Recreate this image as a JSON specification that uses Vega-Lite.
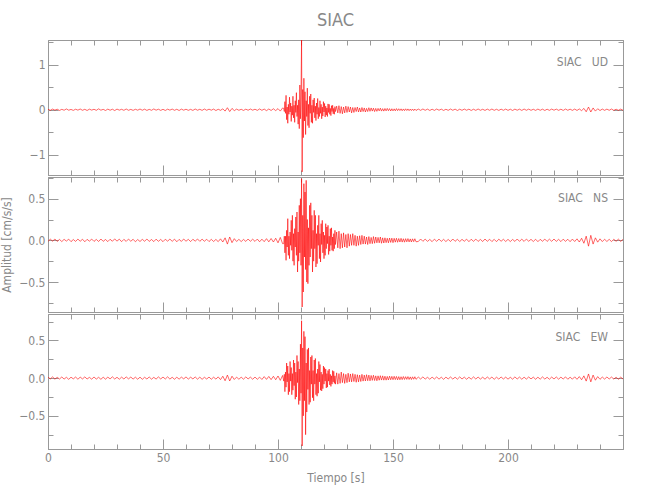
{
"$schema":"https://vega.github.io/schema/vega-lite/v6.json",
"background":"white",
"padding":{"left":0,"top":11,"right":5,"bottom":5},
"spacing":0,
"config":{"font":"DejaVu Sans Condensed, Liberation Sans","view":{"stroke":"#999","strokeWidth":1},
"axis":{"grid":false,"domainColor":"#999","tickColor":"#999","labelColor":"#888","titleColor":"#888","labelFontSize":12,"titleFontSize":12,"titleFontWeight":"normal","labelFont":"DejaVu Sans Condensed, Liberation Sans","titleFont":"DejaVu Sans Condensed, Liberation Sans","labelFlush":false},
"title":{"font":"DejaVu Sans Condensed, Liberation Sans"}},
"datasets":{"s":[
{"t":0,"u":0.01,"n":-0.012,"e":0.013},{"t":1,"u":-0.012,"n":0.014,"e":-0.011},{"t":2,"u":0.015,"n":-0.01,"e":0.016},{"t":3,"u":-0.008,"n":0.016,"e":-0.014},{"t":4,"u":0.012,"n":-0.013,"e":0.01},{"t":5,"u":-0.015,"n":0.011,"e":-0.012},{"t":6,"u":0.009,"n":-0.015,"e":0.015},{"t":7,"u":-0.011,"n":0.012,"e":-0.013},{"t":8,"u":0.018,"n":-0.009,"e":0.011},{"t":9,"u":-0.01,"n":0.014,"e":-0.016},
{"t":10,"u":0.007,"n":-0.016,"e":0.012},{"t":11,"u":-0.014,"n":0.01,"e":-0.01},{"t":12,"u":0.012,"n":-0.013,"e":0.014},{"t":13,"u":-0.009,"n":0.015,"e":-0.015},{"t":14,"u":0.016,"n":-0.011,"e":0.013},{"t":15,"u":-0.012,"n":0.013,"e":-0.011},{"t":16,"u":0.01,"n":-0.017,"e":0.016},{"t":17,"u":-0.017,"n":0.012,"e":-0.012},{"t":18,"u":0.013,"n":-0.01,"e":0.01},{"t":19,"u":-0.008,"n":0.015,"e":-0.014},
{"t":20,"u":0.011,"n":-0.013,"e":0.015},{"t":21,"u":-0.013,"n":0.011,"e":-0.013},{"t":22,"u":0.02,"n":-0.014,"e":0.011},{"t":23,"u":-0.01,"n":0.016,"e":-0.016},{"t":24,"u":0.009,"n":-0.012,"e":0.012},{"t":25,"u":-0.016,"n":0.01,"e":-0.014},{"t":26,"u":0.014,"n":-0.015,"e":0.013},{"t":27,"u":-0.011,"n":0.013,"e":-0.01},{"t":28,"u":0.012,"n":-0.011,"e":0.017},{"t":29,"u":-0.018,"n":0.017,"e":-0.012},
{"t":30,"u":0.015,"n":-0.01,"e":0.011},{"t":31,"u":-0.009,"n":0.014,"e":-0.015},{"t":32,"u":0.01,"n":-0.016,"e":0.013},{"t":33,"u":-0.013,"n":0.012,"e":-0.012},{"t":34,"u":0.017,"n":-0.013,"e":0.016},{"t":35,"u":-0.012,"n":0.015,"e":-0.01},{"t":36,"u":0.008,"n":-0.011,"e":0.014},{"t":37,"u":-0.014,"n":0.013,"e":-0.013},{"t":38,"u":0.011,"n":-0.017,"e":0.012},{"t":39,"u":-0.01,"n":0.01,"e":-0.015},
{"t":40,"u":0.016,"n":-0.014,"e":0.013},{"t":41,"u":-0.011,"n":0.012,"e":-0.016},{"t":42,"u":0.013,"n":-0.011,"e":0.011},{"t":43,"u":-0.015,"n":0.016,"e":-0.012},{"t":44,"u":0.009,"n":-0.013,"e":0.015},{"t":45,"u":-0.012,"n":0.01,"e":-0.014},{"t":46,"u":0.018,"n":-0.015,"e":0.01},{"t":47,"u":-0.01,"n":0.014,"e":-0.013},{"t":48,"u":0.012,"n":-0.012,"e":0.016},{"t":49,"u":-0.014,"n":0.011,"e":-0.011},
{"t":50,"u":0.01,"n":-0.016,"e":0.014},{"t":51,"u":-0.016,"n":0.013,"e":-0.012},{"t":52,"u":0.013,"n":-0.01,"e":0.017},{"t":53,"u":-0.009,"n":0.015,"e":-0.013},{"t":54,"u":0.015,"n":-0.012,"e":0.011},{"t":55,"u":-0.012,"n":0.014,"e":-0.015},{"t":56,"u":0.011,"n":-0.017,"e":0.012},{"t":57,"u":-0.017,"n":0.011,"e":-0.014},{"t":58,"u":0.014,"n":-0.013,"e":0.013},{"t":59,"u":-0.01,"n":0.016,"e":-0.01},
{"t":60,"u":0.012,"n":-0.011,"e":0.016},{"t":61,"u":-0.013,"n":0.012,"e":-0.013},{"t":62,"u":0.009,"n":-0.015,"e":0.012},{"t":63,"u":-0.015,"n":0.013,"e":-0.011},{"t":64,"u":0.017,"n":-0.01,"e":0.015},{"t":65,"u":-0.011,"n":0.016,"e":-0.014},{"t":66,"u":0.01,"n":-0.012,"e":0.013},{"t":67,"u":-0.014,"n":0.014,"e":-0.016},{"t":68,"u":0.016,"n":-0.011,"e":0.011},{"t":69,"u":-0.012,"n":0.013,"e":-0.012},
{"t":70,"u":0.013,"n":-0.015,"e":0.014},{"t":71,"u":-0.01,"n":0.012,"e":-0.015},{"t":72,"u":0.015,"n":-0.014,"e":0.012},{"t":73,"u":-0.018,"n":0.011,"e":-0.013},{"t":74,"u":0.011,"n":-0.016,"e":0.016},{"t":75,"u":-0.013,"n":0.018,"e":-0.02},{"t":76,"u":0.02,"n":-0.02,"e":0.025},{"t":77,"u":-0.03,"n":0.03,"e":-0.035},{"t":78,"u":0.045,"n":-0.045,"e":0.04},{"t":79,"u":-0.04,"n":0.04,"e":-0.038},
{"t":80,"u":0.03,"n":-0.028,"e":0.025},{"t":81,"u":-0.02,"n":0.02,"e":-0.018},{"t":82,"u":0.014,"n":-0.014,"e":0.013},{"t":83,"u":-0.012,"n":0.012,"e":-0.015},{"t":84,"u":0.01,"n":-0.015,"e":0.012},{"t":85,"u":-0.015,"n":0.011,"e":-0.014},{"t":86,"u":0.013,"n":-0.013,"e":0.016},{"t":87,"u":-0.011,"n":0.016,"e":-0.011},{"t":88,"u":0.016,"n":-0.012,"e":0.013},{"t":89,"u":-0.01,"n":0.014,"e":-0.015},
{"t":90,"u":0.012,"n":-0.013,"e":0.014},{"t":91,"u":-0.014,"n":0.015,"e":-0.016},{"t":92,"u":0.018,"n":-0.017,"e":0.013},{"t":93,"u":-0.013,"n":0.014,"e":-0.018},{"t":94,"u":0.015,"n":-0.016,"e":0.02},{"t":95,"u":-0.02,"n":0.02,"e":-0.017},{"t":96,"u":0.017,"n":-0.018,"e":0.022},{"t":97,"u":-0.016,"n":0.022,"e":-0.02},{"t":98,"u":0.022,"n":-0.02,"e":0.024},{"t":99,"u":-0.019,"n":0.025,"e":-0.022},
{"t":100,"u":0.025,"n":-0.03,"e":0.028},{"t":101,"u":-0.03,"n":0.035,"e":-0.03},{"t":102,"u":0.04,"n":-0.04,"e":0.035},
{"t":102.5,"u":0.03,"n":-0.04,"e":-0.04},{"t":102.75,"u":-0.04,"n":0.05,"e":0.05},
{"t":103,"u":0.18,"n":-0.15,"e":-0.18},{"t":103.25,"u":-0.08,"n":0.05,"e":0.08},{"t":103.5,"u":0.32,"n":-0.24,"e":-0.12},{"t":103.75,"u":-0.22,"n":0.12,"e":0.2},
{"t":104,"u":0.06,"n":-0.08,"e":-0.05},{"t":104.25,"u":-0.3,"n":0.26,"e":0.16},{"t":104.5,"u":0.12,"n":-0.18,"e":-0.22},{"t":104.75,"u":-0.1,"n":0.05,"e":0.06},
{"t":105,"u":0.28,"n":-0.22,"e":-0.18},{"t":105.25,"u":-0.05,"n":0.1,"e":0.22},{"t":105.5,"u":0.15,"n":-0.06,"e":-0.04},{"t":105.75,"u":-0.26,"n":0.24,"e":0.14},
{"t":106,"u":0.08,"n":-0.12,"e":-0.22},{"t":106.25,"u":-0.12,"n":0.3,"e":0.06},{"t":106.5,"u":0.3,"n":-0.25,"e":-0.16},{"t":106.75,"u":-0.18,"n":0.08,"e":0.24},
{"t":107,"u":0.1,"n":-0.3,"e":-0.1},{"t":107.25,"u":-0.28,"n":0.14,"e":0.2},{"t":107.5,"u":0.2,"n":-0.08,"e":-0.28},{"t":107.75,"u":-0.06,"n":0.28,"e":0.08},
{"t":108,"u":0.38,"n":-0.18,"e":-0.25},{"t":108.25,"u":-0.15,"n":0.34,"e":0.3},{"t":108.5,"u":0.1,"n":-0.38,"e":-0.06},{"t":108.75,"u":-0.32,"n":0.1,"e":0.22},
{"t":109,"u":0.22,"n":-0.25,"e":-0.35},{"t":109.25,"u":-0.42,"n":0.42,"e":0.12},{"t":109.5,"u":0.55,"n":-0.15,"e":-0.3},{"t":109.75,"u":-0.2,"n":0.5,"e":0.45},
{"t":110,"u":0.35,"n":-0.3,"e":-0.2},{"t":110.25,"u":1.55,"n":0.74,"e":0.76},{"t":110.5,"u":-1.38,"n":-0.8,"e":-0.9},{"t":110.75,"u":0.45,"n":0.3,"e":0.4},
{"t":111,"u":-0.62,"n":-0.62,"e":-0.5},{"t":111.25,"u":0.7,"n":0.68,"e":0.62},{"t":111.5,"u":-0.25,"n":-0.2,"e":-0.3},{"t":111.75,"u":0.4,"n":0.58,"e":0.55},
{"t":112,"u":-0.55,"n":-0.35,"e":-0.75},{"t":112.25,"u":0.2,"n":0.72,"e":0.2},{"t":112.5,"u":-0.15,"n":-0.5,"e":-0.45},{"t":112.75,"u":0.48,"n":0.25,"e":0.38},
{"t":113,"u":-0.35,"n":-0.52,"e":-0.15},{"t":113.25,"u":0.12,"n":0.15,"e":0.4},{"t":113.5,"u":-0.4,"n":-0.3,"e":-0.35},{"t":113.75,"u":0.3,"n":0.42,"e":0.1},
{"t":114,"u":-0.08,"n":-0.2,"e":-0.32},{"t":114.25,"u":0.35,"n":0.45,"e":0.28},{"t":114.5,"u":-0.28,"n":-0.1,"e":-0.08},{"t":114.75,"u":0.1,"n":0.3,"e":0.3},
{"t":115,"u":-0.3,"n":-0.38,"e":-0.26},{"t":115.25,"u":0.22,"n":0.12,"e":0.1},{"t":115.5,"u":-0.06,"n":-0.25,"e":-0.3},{"t":115.75,"u":0.26,"n":0.36,"e":0.24},
{"t":116,"u":-0.18,"n":-0.1,"e":-0.08},{"t":116.25,"u":0.08,"n":0.3,"e":0.26},{"t":116.5,"u":-0.24,"n":-0.32,"e":-0.22},{"t":116.75,"u":0.15,"n":0.08,"e":0.06},
{"t":117,"u":-0.1,"n":-0.28,"e":-0.24},{"t":117.25,"u":0.25,"n":0.18,"e":0.12},{"t":117.5,"u":-0.2,"n":-0.06,"e":-0.2},{"t":117.75,"u":0.05,"n":0.3,"e":0.22},
{"t":118,"u":-0.15,"n":-0.22,"e":-0.05},{"t":118.25,"u":0.2,"n":0.08,"e":0.18},{"t":118.5,"u":-0.08,"n":-0.26,"e":-0.16},{"t":118.75,"u":0.12,"n":0.2,"e":0.08},
{"t":119,"u":-0.2,"n":-0.05,"e":-0.17},{"t":119.25,"u":0.06,"n":0.24,"e":0.05},{"t":119.5,"u":-0.14,"n":-0.15,"e":-0.14},{"t":119.75,"u":0.18,"n":0.1,"e":0.16},
{"t":120,"u":-0.05,"n":-0.22,"e":-0.08},{"t":120.25,"u":0.14,"n":0.06,"e":0.14},{"t":120.5,"u":-0.16,"n":-0.18,"e":-0.04},{"t":120.75,"u":0.08,"n":0.2,"e":0.12},
{"t":121,"u":-0.12,"n":-0.1,"e":-0.13},{"t":121.25,"u":0.04,"n":0.16,"e":0.06},{"t":121.5,"u":-0.15,"n":-0.04,"e":-0.12},{"t":121.75,"u":0.13,"n":0.18,"e":0.1},
{"t":122,"u":-0.06,"n":-0.17,"e":-0.04},{"t":122.25,"u":0.12,"n":0.05,"e":0.12},{"t":122.5,"u":-0.1,"n":-0.13,"e":-0.09},{"t":122.75,"u":0.03,"n":0.14,"e":0.05},
{"t":123,"u":-0.13,"n":-0.06,"e":-0.11},{"t":123.25,"u":0.09,"n":0.15,"e":0.03},{"t":123.5,"u":-0.04,"n":-0.12,"e":-0.08},{"t":123.75,"u":0.1,"n":0.04,"e":0.1},
{"t":124,"u":-0.09,"n":-0.13,"e":-0.05},{"t":124.25,"u":0.03,"n":0.08,"e":0.09},{"t":124.5,"u":-0.1,"n":-0.1,"e":-0.07},{"t":124.75,"u":0.07,"n":0.12,"e":0.03},
{"t":125,"u":-0.04,"n":-0.05,"e":-0.08},
{"t":125.5,"u":0.08,"n":0.1,"e":0.07},{"t":126,"u":-0.07,"n":-0.09,"e":-0.08},{"t":126.5,"u":0.09,"n":0.11,"e":0.06},{"t":127,"u":-0.08,"n":-0.1,"e":-0.07},{"t":127.5,"u":0.07,"n":0.08,"e":0.08},{"t":128,"u":-0.09,"n":-0.09,"e":-0.06},
{"t":128.5,"u":0.06,"n":0.09,"e":0.06},{"t":129,"u":-0.07,"n":-0.08,"e":-0.07},{"t":129.5,"u":0.08,"n":0.07,"e":0.05},{"t":130,"u":-0.06,"n":-0.09,"e":-0.06},{"t":130.5,"u":0.07,"n":0.08,"e":0.065},{"t":131,"u":-0.05,"n":-0.07,"e":-0.05},
{"t":131.5,"u":0.06,"n":0.07,"e":0.055},{"t":132,"u":-0.07,"n":-0.06,"e":-0.05},{"t":132.5,"u":0.05,"n":0.08,"e":0.06},{"t":133,"u":-0.06,"n":-0.06,"e":-0.045},{"t":133.5,"u":0.05,"n":0.06,"e":0.05},{"t":134,"u":-0.04,"n":-0.07,"e":-0.055},
{"t":134.5,"u":0.06,"n":0.05,"e":0.045},{"t":135,"u":-0.05,"n":-0.06,"e":-0.05},{"t":135.5,"u":0.04,"n":0.055,"e":0.04},{"t":136,"u":-0.05,"n":-0.05,"e":-0.045},{"t":136.5,"u":0.05,"n":0.06,"e":0.05},{"t":137,"u":-0.04,"n":-0.045,"e":-0.04},
{"t":137.5,"u":0.04,"n":0.05,"e":0.04},{"t":138,"u":-0.05,"n":-0.045,"e":-0.038},{"t":138.5,"u":0.03,"n":0.04,"e":0.045},{"t":139,"u":-0.04,"n":-0.05,"e":-0.035},{"t":139.5,"u":0.045,"n":0.045,"e":0.04},{"t":140,"u":-0.035,"n":-0.04,"e":-0.036},
{"t":140.5,"u":0.04,"n":0.035,"e":0.035},{"t":141,"u":-0.03,"n":-0.04,"e":-0.03},{"t":141.5,"u":0.035,"n":0.045,"e":0.038},{"t":142,"u":-0.04,"n":-0.035,"e":-0.032},{"t":142.5,"u":0.03,"n":0.04,"e":0.03},{"t":143,"u":-0.035,"n":-0.03,"e":-0.035},
{"t":143.5,"u":0.03,"n":0.035,"e":0.03},{"t":144,"u":-0.025,"n":-0.03,"e":-0.028},{"t":144.5,"u":0.035,"n":0.04,"e":0.032},{"t":145,"u":-0.03,"n":-0.035,"e":-0.026},{"t":145.5,"u":0.025,"n":0.03,"e":0.03},{"t":146,"u":-0.03,"n":-0.032,"e":-0.027},
{"t":146.5,"u":0.028,"n":0.03,"e":0.025},{"t":147,"u":-0.025,"n":-0.028,"e":-0.027},{"t":147.5,"u":0.03,"n":0.025,"e":0.022},{"t":148,"u":-0.022,"n":-0.03,"e":-0.025},{"t":148.5,"u":0.025,"n":0.028,"e":0.026},{"t":149,"u":-0.028,"n":-0.025,"e":-0.022},
{"t":149.5,"u":0.022,"n":0.026,"e":0.023},{"t":150,"u":-0.025,"n":-0.028,"e":-0.021},{"t":150.5,"u":0.02,"n":0.024,"e":0.024},{"t":151,"u":-0.024,"n":-0.022,"e":-0.02},{"t":151.5,"u":0.026,"n":0.025,"e":0.022},{"t":152,"u":-0.02,"n":-0.023,"e":-0.023},
{"t":152.5,"u":0.022,"n":0.022,"e":0.02},{"t":153,"u":-0.018,"n":-0.02,"e":-0.022},{"t":153.5,"u":0.02,"n":0.024,"e":0.018},{"t":154,"u":-0.022,"n":-0.021,"e":-0.02},{"t":154.5,"u":0.018,"n":0.019,"e":0.021},{"t":155,"u":-0.02,"n":-0.022,"e":-0.018},
{"t":155.5,"u":0.021,"n":0.02,"e":0.019},{"t":156,"u":-0.017,"n":-0.018,"e":-0.017},{"t":156.5,"u":0.019,"n":0.021,"e":0.02},{"t":157,"u":-0.02,"n":-0.019,"e":-0.018},{"t":157.5,"u":0.016,"n":0.017,"e":0.016},{"t":158,"u":-0.018,"n":-0.02,"e":-0.019},
{"t":158.5,"u":0.017,"n":0.018,"e":0.017},{"t":159,"u":-0.019,"n":-0.016,"e":-0.015},{"t":159.5,"u":0.015,"n":0.019,"e":0.018},{"t":160,"u":-0.016,"n":-0.017,"e":-0.016},
{"t":161,"u":0.015,"n":-0.014,"e":0.014},{"t":162,"u":-0.013,"n":0.016,"e":-0.012},{"t":163,"u":0.017,"n":-0.012,"e":0.016},{"t":164,"u":-0.012,"n":0.015,"e":-0.013},{"t":165,"u":0.014,"n":-0.013,"e":0.011},{"t":166,"u":-0.016,"n":0.011,"e":-0.015},{"t":167,"u":0.012,"n":-0.016,"e":0.013},{"t":168,"u":-0.014,"n":0.014,"e":-0.012},{"t":169,"u":0.016,"n":-0.012,"e":0.015},{"t":170,"u":-0.011,"n":0.015,"e":-0.014},
{"t":171,"u":0.013,"n":-0.013,"e":0.012},{"t":172,"u":-0.015,"n":0.012,"e":-0.016},{"t":173,"u":0.011,"n":-0.015,"e":0.013},{"t":174,"u":-0.013,"n":0.011,"e":-0.011},{"t":175,"u":0.016,"n":-0.014,"e":0.015},{"t":176,"u":-0.012,"n":0.016,"e":-0.013},{"t":177,"u":0.014,"n":-0.012,"e":0.012},{"t":178,"u":-0.017,"n":0.013,"e":-0.014},{"t":179,"u":0.012,"n":-0.015,"e":0.016},{"t":180,"u":-0.013,"n":0.012,"e":-0.012},
{"t":181,"u":0.015,"n":-0.011,"e":0.013},{"t":182,"u":-0.011,"n":0.014,"e":-0.015},{"t":183,"u":0.013,"n":-0.016,"e":0.011},{"t":184,"u":-0.016,"n":0.013,"e":-0.014},{"t":185,"u":0.012,"n":-0.012,"e":0.016},{"t":186,"u":-0.014,"n":0.015,"e":-0.012},{"t":187,"u":0.017,"n":-0.013,"e":0.014},{"t":188,"u":-0.012,"n":0.011,"e":-0.013},{"t":189,"u":0.011,"n":-0.014,"e":0.012},{"t":190,"u":-0.015,"n":0.016,"e":-0.015},
{"t":191,"u":0.014,"n":-0.012,"e":0.015},{"t":192,"u":-0.012,"n":0.013,"e":-0.011},{"t":193,"u":0.016,"n":-0.015,"e":0.014},{"t":194,"u":-0.013,"n":0.012,"e":-0.016},{"t":195,"u":0.011,"n":-0.016,"e":0.012},{"t":196,"u":-0.015,"n":0.014,"e":-0.013},{"t":197,"u":0.013,"n":-0.011,"e":0.015},{"t":198,"u":-0.012,"n":0.013,"e":-0.012},{"t":199,"u":0.015,"n":-0.014,"e":0.013},{"t":200,"u":-0.014,"n":0.012,"e":-0.014},
{"t":201,"u":0.012,"n":-0.015,"e":0.011},{"t":202,"u":-0.016,"n":0.011,"e":-0.014},{"t":203,"u":0.014,"n":-0.013,"e":0.016},{"t":204,"u":-0.011,"n":0.016,"e":-0.012},{"t":205,"u":0.013,"n":-0.012,"e":0.014},{"t":206,"u":-0.015,"n":0.014,"e":-0.015},{"t":207,"u":0.016,"n":-0.013,"e":0.012},{"t":208,"u":-0.012,"n":0.015,"e":-0.013},{"t":209,"u":0.014,"n":-0.011,"e":0.015},{"t":210,"u":-0.013,"n":0.012,"e":-0.011},
{"t":211,"u":0.011,"n":-0.014,"e":0.013},{"t":212,"u":-0.014,"n":0.013,"e":-0.015},{"t":213,"u":0.015,"n":-0.016,"e":0.012},{"t":214,"u":-0.012,"n":0.012,"e":-0.014},{"t":215,"u":0.013,"n":-0.011,"e":0.016},{"t":216,"u":-0.016,"n":0.015,"e":-0.013},{"t":217,"u":0.012,"n":-0.013,"e":0.011},{"t":218,"u":-0.013,"n":0.014,"e":-0.015},{"t":219,"u":0.015,"n":-0.012,"e":0.014},{"t":220,"u":-0.011,"n":0.016,"e":-0.012},
{"t":221,"u":0.014,"n":-0.013,"e":0.015},{"t":222,"u":-0.013,"n":0.012,"e":-0.014},{"t":223,"u":0.012,"n":-0.015,"e":0.013},{"t":224,"u":-0.015,"n":0.014,"e":-0.012},{"t":225,"u":0.016,"n":-0.012,"e":0.016},{"t":226,"u":-0.012,"n":0.013,"e":-0.015},{"t":227,"u":0.013,"n":-0.016,"e":0.012},{"t":228,"u":-0.014,"n":0.015,"e":-0.014},{"t":229,"u":0.015,"n":-0.014,"e":0.017},{"t":230,"u":-0.016,"n":0.018,"e":-0.016},
{"t":231,"u":0.018,"n":-0.02,"e":0.02},{"t":232,"u":-0.02,"n":0.025,"e":-0.022},{"t":233,"u":0.03,"n":-0.035,"e":0.03},{"t":234,"u":-0.045,"n":0.05,"e":-0.04},{"t":235,"u":0.06,"n":-0.07,"e":0.055},{"t":236,"u":-0.05,"n":0.06,"e":-0.05},{"t":237,"u":0.04,"n":-0.045,"e":0.04},{"t":238,"u":-0.03,"n":0.03,"e":-0.028},{"t":239,"u":0.022,"n":-0.022,"e":0.02},{"t":240,"u":-0.018,"n":0.018,"e":-0.016},
{"t":241,"u":0.015,"n":-0.015,"e":0.014},{"t":242,"u":-0.013,"n":0.013,"e":-0.013},{"t":243,"u":0.014,"n":-0.014,"e":0.015},{"t":244,"u":-0.012,"n":0.012,"e":-0.012},{"t":245,"u":0.016,"n":-0.015,"e":0.014},{"t":246,"u":-0.014,"n":0.013,"e":-0.013},{"t":247,"u":0.012,"n":-0.012,"e":0.012},{"t":248,"u":-0.013,"n":0.014,"e":-0.015},{"t":249,"u":0.014,"n":-0.013,"e":0.013},{"t":250,"u":-0.012,"n":0.012,"e":-0.012}
]},
"vconcat":[
{"width":575,"height":135,
"title":{"text":"SIAC","fontSize":18,"fontWeight":"normal","color":"#888","offset":10},
"layer":[
{"data":{"name":"s"},"mark":{"type":"line","color":"#ff0000","strokeWidth":0.6,"clip":true},
"encoding":{"x":{"field":"t","type":"quantitative","scale":{"domain":[0,250],"nice":false,"zero":false},"axis":{"labels":false,"ticks":false,"title":null}},
"y":{"field":"u","type":"quantitative","scale":{"domain":[-1.45,1.55],"nice":false,"zero":false},"axis":{"values":[-1,0,1],"ticks":false,"labelPadding":3,"format":"d","title":null}}}},
{"data":{"values":[{"t":125,"v":0}]},"mark":{"type":"point","opacity":0},
"encoding":{"x":{"field":"t","type":"quantitative","scale":{"domain":[0,250],"nice":false,"zero":false},"axis":{"orient":"bottom","values":[0,50,100,150,200],"tickSize":-10,"labels":false,"domain":false,"title":null}},
"y":{"field":"v","type":"quantitative","scale":{"domain":[-1.45,1.55],"nice":false,"zero":false},"axis":{"orient":"left","values":[-1,0,1],"tickSize":-10,"labels":false,"domain":false,"title":null}}}},
{"data":{"values":[{"t":125,"v":0}]},"mark":{"type":"point","opacity":0},
"encoding":{"x":{"field":"t","type":"quantitative","scale":{"domain":[0,250],"nice":false,"zero":false},"axis":{"orient":"bottom","values":[10,20,30,40,60,70,80,90,110,120,130,140,160,170,180,190,210,220,230,240],"tickSize":-5,"labels":false,"domain":false,"title":null}},
"y":{"field":"v","type":"quantitative","scale":{"domain":[-1.45,1.55],"nice":false,"zero":false},"axis":{"orient":"left","values":[-0.5,0.5,1.5],"tickSize":-5,"labels":false,"domain":false,"title":null}}}},
{"data":{"values":[{"t":125,"v":0}]},"mark":{"type":"point","opacity":0},
"encoding":{"x":{"field":"t","type":"quantitative","scale":{"domain":[0,250],"nice":false,"zero":false},"axis":{"orient":"top","values":[10,20,30,40,50,60,70,80,90,100,110,120,130,140,150,160,170,180,190,200,210,220,230,240],"tickSize":-5,"labels":false,"title":null}},
"y":{"field":"v","type":"quantitative","scale":{"domain":[-1.45,1.55],"nice":false,"zero":false},"axis":{"orient":"right","values":[-1,0,1],"tickSize":-10,"labels":false,"title":null}}}},
{"data":{"values":[{"t":125,"v":0}]},"mark":{"type":"point","opacity":0},
"encoding":{"x":{"field":"t","type":"quantitative","scale":{"domain":[0,250],"nice":false,"zero":false},"axis":null},
"y":{"field":"v","type":"quantitative","scale":{"domain":[-1.45,1.55],"nice":false,"zero":false},"axis":{"orient":"right","values":[-0.5,0.5,1.5],"tickSize":-5,"labels":false,"domain":false,"title":null}}}},
{"data":{"values":[{"lab":"SIAC\u00a0\u00a0\u00a0UD"}]},"mark":{"type":"text","align":"right","baseline":"middle","color":"#888","fontSize":12},
"encoding":{"x":{"datum":243.5,"type":"quantitative","axis":null},"y":{"datum":1.07,"type":"quantitative","axis":null},"text":{"field":"lab"}}}
],
"resolve":{"axis":{"x":"independent","y":"independent"}}},
{"width":575,"height":135,
"layer":[
{"data":{"name":"s"},"mark":{"type":"line","color":"#ff0000","strokeWidth":0.6,"clip":true},
"encoding":{"x":{"field":"t","type":"quantitative","scale":{"domain":[0,250],"nice":false,"zero":false},"axis":{"labels":false,"ticks":false,"title":null}},
"y":{"field":"n","type":"quantitative","scale":{"domain":[-0.86,0.76],"nice":false,"zero":false},"axis":{"values":[-0.5,0,0.5],"ticks":false,"labelPadding":3,"format":".1f","title":"Amplitud  [cm/s/s]","titlePadding":5}}}},
{"data":{"values":[{"t":125,"v":0}]},"mark":{"type":"point","opacity":0},
"encoding":{"x":{"field":"t","type":"quantitative","scale":{"domain":[0,250],"nice":false,"zero":false},"axis":{"orient":"bottom","values":[0,50,100,150,200],"tickSize":-10,"labels":false,"domain":false,"title":null}},
"y":{"field":"v","type":"quantitative","scale":{"domain":[-0.86,0.76],"nice":false,"zero":false},"axis":{"orient":"left","values":[-0.5,0,0.5],"tickSize":-10,"labels":false,"domain":false,"title":null}}}},
{"data":{"values":[{"t":125,"v":0}]},"mark":{"type":"point","opacity":0},
"encoding":{"x":{"field":"t","type":"quantitative","scale":{"domain":[0,250],"nice":false,"zero":false},"axis":{"orient":"bottom","values":[10,20,30,40,60,70,80,90,110,120,130,140,160,170,180,190,210,220,230,240],"tickSize":-5,"labels":false,"domain":false,"title":null}},
"y":{"field":"v","type":"quantitative","scale":{"domain":[-0.86,0.76],"nice":false,"zero":false},"axis":{"orient":"left","values":[-0.75,-0.25,0.25,0.75],"tickSize":-5,"labels":false,"domain":false,"title":null}}}},
{"data":{"values":[{"t":125,"v":0}]},"mark":{"type":"point","opacity":0},
"encoding":{"x":{"field":"t","type":"quantitative","scale":{"domain":[0,250],"nice":false,"zero":false},"axis":{"orient":"top","values":[10,20,30,40,50,60,70,80,90,100,110,120,130,140,150,160,170,180,190,200,210,220,230,240],"tickSize":-5,"labels":false,"title":null}},
"y":{"field":"v","type":"quantitative","scale":{"domain":[-0.86,0.76],"nice":false,"zero":false},"axis":{"orient":"right","values":[-0.5,0,0.5],"tickSize":-10,"labels":false,"title":null}}}},
{"data":{"values":[{"t":125,"v":0}]},"mark":{"type":"point","opacity":0},
"encoding":{"x":{"field":"t","type":"quantitative","scale":{"domain":[0,250],"nice":false,"zero":false},"axis":null},
"y":{"field":"v","type":"quantitative","scale":{"domain":[-0.86,0.76],"nice":false,"zero":false},"axis":{"orient":"right","values":[-0.75,-0.25,0.25,0.75],"tickSize":-5,"labels":false,"domain":false,"title":null}}}},
{"data":{"values":[{"lab":"SIAC\u00a0\u00a0\u00a0NS"}]},"mark":{"type":"text","align":"right","baseline":"middle","color":"#888","fontSize":12},
"encoding":{"x":{"datum":243.5,"type":"quantitative","axis":null},"y":{"datum":0.51,"type":"quantitative","axis":null},"text":{"field":"lab"}}}
],
"resolve":{"axis":{"x":"independent","y":"independent"}}},
{"width":575,"height":135,
"layer":[
{"data":{"name":"s"},"mark":{"type":"line","color":"#ff0000","strokeWidth":0.6,"clip":true},
"encoding":{"x":{"field":"t","type":"quantitative","scale":{"domain":[0,250],"nice":false,"zero":false},"axis":{"values":[0,50,100,150,200],"ticks":false,"labelPadding":3,"title":"Tiempo  [s]","titlePadding":9}},
"y":{"field":"e","type":"quantitative","scale":{"domain":[-0.94,0.85],"nice":false,"zero":false},"axis":{"values":[-0.5,0,0.5],"ticks":false,"labelPadding":3,"format":".1f","title":null}}}},
{"data":{"values":[{"t":125,"v":0}]},"mark":{"type":"point","opacity":0},
"encoding":{"x":{"field":"t","type":"quantitative","scale":{"domain":[0,250],"nice":false,"zero":false},"axis":{"orient":"bottom","values":[0,50,100,150,200],"tickSize":-10,"labels":false,"domain":false,"title":null}},
"y":{"field":"v","type":"quantitative","scale":{"domain":[-0.94,0.85],"nice":false,"zero":false},"axis":{"orient":"left","values":[-0.5,0,0.5],"tickSize":-10,"labels":false,"domain":false,"title":null}}}},
{"data":{"values":[{"t":125,"v":0}]},"mark":{"type":"point","opacity":0},
"encoding":{"x":{"field":"t","type":"quantitative","scale":{"domain":[0,250],"nice":false,"zero":false},"axis":{"orient":"bottom","values":[10,20,30,40,60,70,80,90,110,120,130,140,160,170,180,190,210,220,230,240],"tickSize":-5,"labels":false,"domain":false,"title":null}},
"y":{"field":"v","type":"quantitative","scale":{"domain":[-0.94,0.85],"nice":false,"zero":false},"axis":{"orient":"left","values":[-0.75,-0.25,0.25,0.75],"tickSize":-5,"labels":false,"domain":false,"title":null}}}},
{"data":{"values":[{"t":125,"v":0}]},"mark":{"type":"point","opacity":0},
"encoding":{"x":{"field":"t","type":"quantitative","scale":{"domain":[0,250],"nice":false,"zero":false},"axis":{"orient":"top","values":[10,20,30,40,50,60,70,80,90,100,110,120,130,140,150,160,170,180,190,200,210,220,230,240],"tickSize":-5,"labels":false,"title":null}},
"y":{"field":"v","type":"quantitative","scale":{"domain":[-0.94,0.85],"nice":false,"zero":false},"axis":{"orient":"right","values":[-0.5,0,0.5],"tickSize":-10,"labels":false,"title":null}}}},
{"data":{"values":[{"t":125,"v":0}]},"mark":{"type":"point","opacity":0},
"encoding":{"x":{"field":"t","type":"quantitative","scale":{"domain":[0,250],"nice":false,"zero":false},"axis":null},
"y":{"field":"v","type":"quantitative","scale":{"domain":[-0.94,0.85],"nice":false,"zero":false},"axis":{"orient":"right","values":[-0.75,-0.25,0.25,0.75],"tickSize":-5,"labels":false,"domain":false,"title":null}}}},
{"data":{"values":[{"lab":"SIAC\u00a0\u00a0\u00a0EW"}]},"mark":{"type":"text","align":"right","baseline":"middle","color":"#888","fontSize":12},
"encoding":{"x":{"datum":243.5,"type":"quantitative","axis":null},"y":{"datum":0.54,"type":"quantitative","axis":null},"text":{"field":"lab"}}}
],
"resolve":{"axis":{"x":"independent","y":"independent"}}}
]
}
